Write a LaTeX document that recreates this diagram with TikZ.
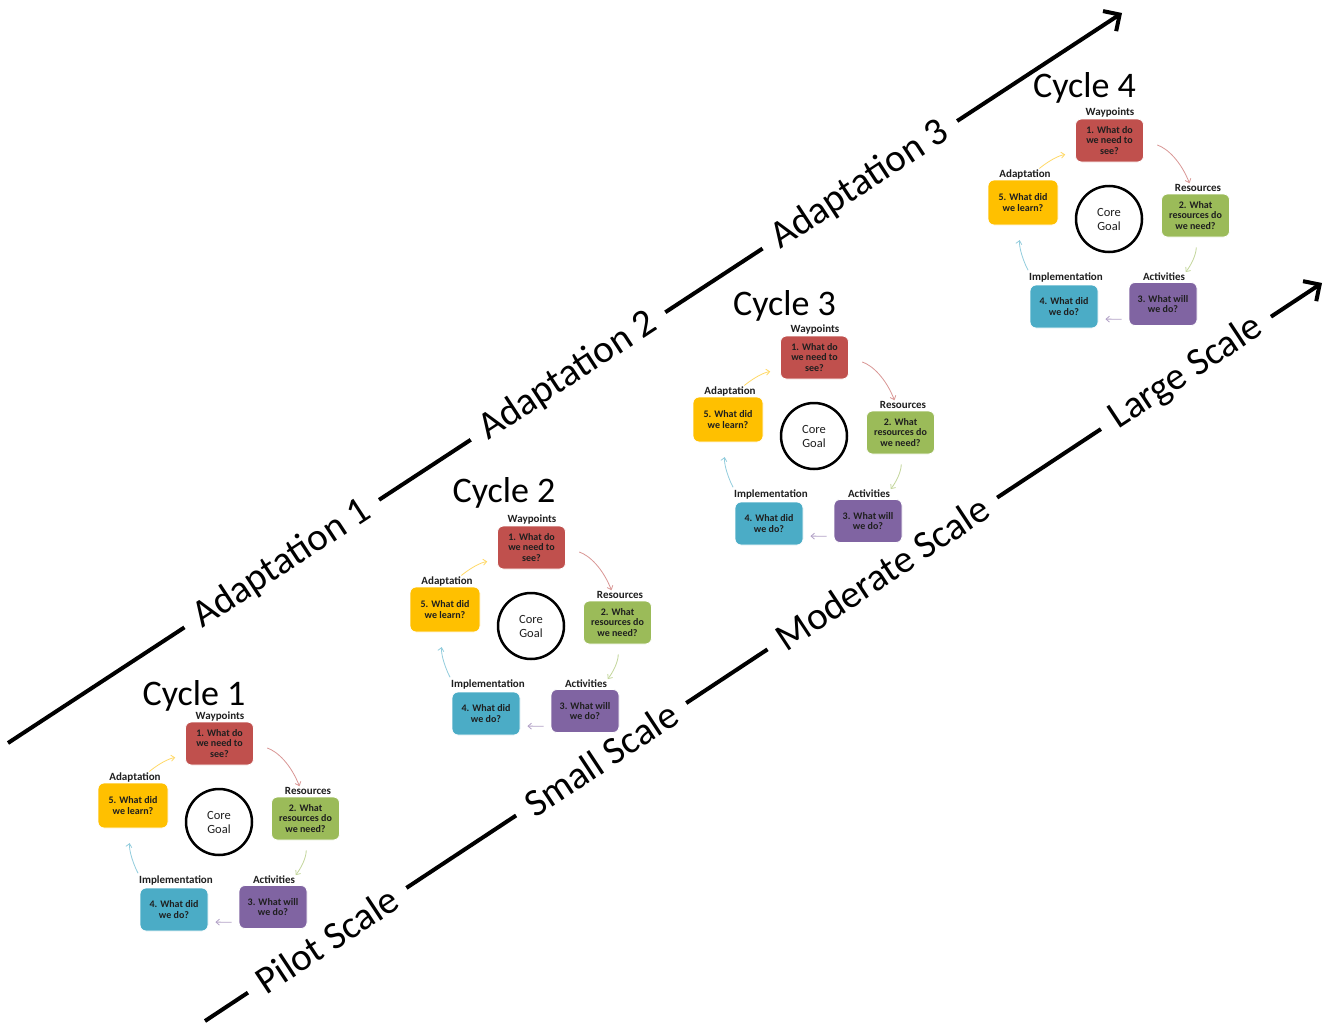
\documentclass[tikz,border=0pt]{standalone}
\usepackage{fontspec}
\setmainfont{Carlito}
\usetikzlibrary{arrows.meta,calc}
\definecolor{cred}{HTML}{C0504D}
\definecolor{cgreen}{HTML}{9BBB59}
\definecolor{cpurple}{HTML}{8064A2}
\definecolor{cblue}{HTML}{4BACC6}
\definecolor{cyellow}{HTML}{FFC000}
\definecolor{ared}{HTML}{D99694}
\definecolor{agreen}{HTML}{C3D69B}
\definecolor{apurple}{HTML}{B3A2C7}
\definecolor{ablue}{HTML}{93CDDD}
\definecolor{ayellow}{HTML}{FFD966}
\definecolor{txt}{HTML}{1F1F1F}
\tikzset{
  box/.style={rounded corners=6pt, minimum width=68pt, minimum height=43pt, align=center,
    font=\bfseries\fontsize{10}{10.8}\selectfont, text=txt, draw=white, line width=0.8pt, inner sep=1pt},
  lab/.style={font=\bfseries\fontsize{11}{12}\selectfont, text=txt, inner sep=0pt},
  ttl/.style={font=\fontsize{36}{40}\selectfont, inner sep=0pt},
  coregoal/.style={circle, draw=black, line width=2.5pt, minimum size=66pt, align=center,
    font=\fontsize{12.5}{14}\selectfont, text=txt, inner sep=0pt},
  axisline/.style={line width=4pt, -{Straight Barb[length=12pt,width=24pt]}},
  axlab/.style={font=\fontsize{39}{44}\selectfont, fill=white, inner xsep=14pt, inner ysep=2pt},
  carr/.style={draw=#1, line width=0.8pt, -{Straight Barb[length=3.5pt,width=6pt]}}
}
\newcommand{\drawcycle}[6]{%
  \node[ttl] (t#1) at (#4,#5) {Cycle #6};
  \begin{scope}[shift={(#2,#3)}]
    \node[box, fill=cred] (w#1) at (219.5,743.5) {1. What do\\we need to\\see?};
    \node[lab] (wl#1) at (220,716) {Waypoints};
    \node[box, fill=cgreen] (r#1) at (305.5,818.5) {2. What\\resources do\\we need?};
    \node[lab] (rl#1) at (308,791) {Resources};
    \node[box, fill=cpurple] (a#1) at (273,907) {3. What will\\we do?};
    \node[lab] (al#1) at (274,880) {Activities};
    \node[box, fill=cblue] (i#1) at (174,909.5) {4. What did\\we do?};
    \node[lab] (il#1) at (176,880) {Implementation};
    \node[box, fill=cyellow, minimum width=70pt, minimum height=45pt] (y#1) at (133,805.5) {5. What did\\we learn?};
    \node[lab] (yl#1) at (135,777) {Adaptation};
    \node[coregoal] (c#1) at (219,822) {Core\\Goal};
    \draw[carr=ared, shorten <=14pt, shorten >=1pt] (w#1.east) to[bend left=25] (rl#1.155);
    \draw[carr=agreen, shorten <=10pt, shorten >=1pt] (r#1.south) to[bend left=20] (al#1.north east);
    \draw[carr=apurple, shorten <=7pt, shorten >=7pt] (a#1.204) to (i#1.340);
    \draw[carr=ablue, shorten <=2pt, shorten >=15pt] (il#1.north west) to[bend left=20] (y#1.south);
    \draw[carr=ayellow, shorten <=1pt, shorten >=10pt] (yl#1.20) to[bend left=15] (w#1.200);
  \end{scope}
}
\begin{document}
\begin{tikzpicture}[x=1pt,y=-1pt]
\useasboundingbox (0,0) rectangle (1331,1025);
\fill[white] (0,0) rectangle (1331,1025);
% axes
\coordinate (ta) at (8,743);
\coordinate (tb) at (1122,13);
\coordinate (ba) at (205,1021);
\coordinate (bb) at (1322,283);
\draw[axisline] (ta) -- (tb);
\draw[axisline] (ba) -- (bb);
% axis labels
\node[axlab, rotate=33.24] (ad1) at (282,564) {Adaptation 1};
\node[axlab, rotate=33.24] (ad2) at (568,376) {Adaptation 2};
\node[axlab, rotate=33.24] (ad3) at (860,185) {Adaptation 3};
\node[axlab, rotate=33.45] (sc1) at (327,940) {Pilot Scale};
\node[axlab, rotate=33.45] (sc2) at (601,759) {Small Scale};
\node[axlab, rotate=33.45] (sc3) at (882,573) {Moderate Scale};
\node[axlab, rotate=33.45] (sc4) at (1186,373) {Large Scale};
% cycles
\drawcycle{1}{0}{0}{194}{696}{1}
\drawcycle{2}{312}{-196}{504}{493}{2}
\drawcycle{3}{595}{-386}{784.5}{306}{3}
\drawcycle{4}{890}{-603}{1084.5}{88}{4}
\end{tikzpicture}
\end{document}
